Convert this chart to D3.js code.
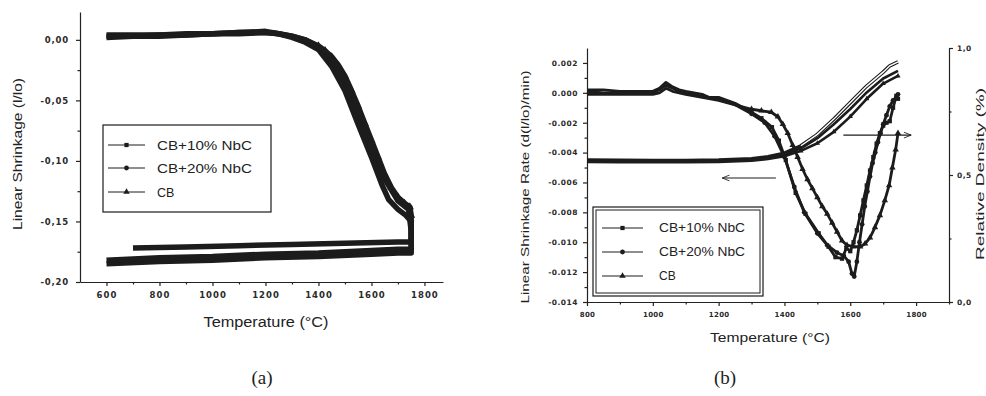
<!DOCTYPE html>
<html>
<head>
<meta charset="utf-8">
<script src="https://cdn.jsdelivr.net/npm/d3@7"></script>
<style>
  body { margin: 0; background: #fff; }
  svg { display: block; font-family: "Liberation Sans", Arial, sans-serif; }
  .axis path, .axis line { stroke: #222; stroke-width: 1.2; }
  .axis text { fill: #2a2a2a; font-family: "DejaVu Sans", sans-serif; font-weight: bold; }
  .title { fill: #222; }
</style>
</head>
<body>
<svg id="fig" width="986" height="396"></svg>
<script>
// ---------- panel (a): linear shrinkage vs temperature ----------
const seriesNames = ['CB+10% NbC', 'CB+20% NbC', 'CB'];

const shrinkTemp10 = [600, 700, 800, 900, 1000, 1100, 1200, 1250, 1300, 1350, 1400, 1450, 1500, 1550, 1600, 1640, 1665, 1700, 1730, 1750, 1750, 1750, 1700, 1600, 1400, 1200, 1000, 800, 600];
const shrink10 = [0.003, 0.003, 0.004, 0.004, 0.005, 0.006, 0.006, 0.005, 0.002, -0.002, -0.008, -0.022, -0.042, -0.070, -0.097, -0.120, -0.132, -0.140, -0.145, -0.150, -0.165, -0.176, -0.176, -0.177, -0.179, -0.180, -0.182, -0.183, -0.185];

const shrinkTemp20 = [600, 700, 800, 900, 1000, 1100, 1200, 1250, 1300, 1350, 1400, 1450, 1500, 1550, 1600, 1650, 1700, 1740, 1750, 1750, 1700, 1600, 1400, 1200, 1000, 800, 600];
const shrink20 = [0.002, 0.003, 0.003, 0.004, 0.005, 0.005, 0.006, 0.005, 0.003, 0.000, -0.006, -0.017, -0.034, -0.060, -0.088, -0.115, -0.133, -0.140, -0.158, -0.173, -0.173, -0.174, -0.176, -0.177, -0.179, -0.180, -0.182];

const shrinkTempCB = [600, 700, 800, 900, 1000, 1100, 1200, 1250, 1300, 1350, 1400, 1425, 1450, 1475, 1500, 1525, 1550, 1575, 1600, 1625, 1650, 1675, 1700, 1725, 1745, 1750, 1750, 1700, 1500, 1300, 1100, 900, 700];
const shrinkCB = [0.004, 0.004, 0.004, 0.005, 0.005, 0.006, 0.007, 0.005, 0.003, 0.000, -0.005, -0.009, -0.014, -0.021, -0.030, -0.042, -0.055, -0.069, -0.083, -0.097, -0.111, -0.122, -0.130, -0.135, -0.138, -0.145, -0.167, -0.167, -0.168, -0.169, -0.170, -0.171, -0.172];

const tempTicksA = [600, 800, 1000, 1200, 1400, 1600, 1800];
const shrinkTicksA = [-0.20, -0.15, -0.10, -0.05, 0.00];

// ---------- panel (b): shrinkage rate and relative density ----------
const rateTemp10 = [800, 850, 900, 950, 1000, 1020, 1040, 1060, 1080, 1100, 1150, 1170, 1200, 1250, 1300, 1330, 1362, 1383, 1404, 1434, 1464, 1504, 1534, 1555, 1575, 1588, 1600, 1610, 1620, 1630, 1640, 1650, 1660, 1670, 1680, 1690, 1700, 1710, 1720, 1730, 1740, 1745];
const rate10 = [0.0002, 0.0002, 0.0001, 0.0001, 0.0001, 0.0003, 0.0007, 0.0004, 0.0002, 0.0001, -0.0001, -0.0003, -0.0003, -0.0007, -0.0013, -0.0017, -0.0023, -0.0032, -0.0045, -0.0067, -0.0081, -0.0094, -0.0103, -0.0110, -0.0111, -0.0104, -0.0106, -0.0100, -0.0092, -0.0082, -0.0072, -0.0062, -0.0052, -0.0043, -0.0034, -0.0027, -0.0022, -0.0020, -0.0019, -0.0010, -0.0002, -0.0004];

const rateTemp20 = [800, 850, 900, 950, 1000, 1020, 1040, 1060, 1080, 1100, 1150, 1170, 1200, 1250, 1300, 1340, 1370, 1400, 1430, 1460, 1500, 1530, 1560, 1580, 1595, 1605, 1612, 1620, 1628, 1636, 1644, 1652, 1660, 1668, 1676, 1684, 1692, 1700, 1710, 1720, 1730, 1740, 1745];
const rate20 = [0.0001, 0.0000, 0.0000, 0.0000, 0.0000, 0.0002, 0.0005, 0.0003, 0.0001, 0.0000, -0.0002, -0.0003, -0.0004, -0.0008, -0.0014, -0.0020, -0.0029, -0.0043, -0.0063, -0.0080, -0.0094, -0.0102, -0.0107, -0.0109, -0.0113, -0.0121, -0.0123, -0.0113, -0.0100, -0.0088, -0.0076, -0.0066, -0.0056, -0.0047, -0.0040, -0.0033, -0.0027, -0.0021, -0.0015, -0.0009, -0.0005, -0.0003, -0.0001];

const rateTempCB = [800, 850, 900, 950, 1000, 1020, 1040, 1060, 1080, 1100, 1150, 1200, 1250, 1300, 1330, 1360, 1380, 1395, 1410, 1425, 1440, 1455, 1470, 1485, 1500, 1515, 1530, 1545, 1560, 1575, 1590, 1610, 1630, 1645, 1660, 1675, 1690, 1705, 1718, 1728, 1738, 1745];
const rateCB = [-0.0001, -0.0001, -0.0001, -0.0001, -0.0001, 0.0000, 0.0003, 0.0001, 0.0000, -0.0001, -0.0003, -0.0005, -0.0008, -0.0011, -0.0012, -0.0013, -0.0016, -0.0021, -0.0027, -0.0035, -0.0043, -0.0051, -0.0058, -0.0064, -0.0070, -0.0076, -0.0081, -0.0087, -0.0093, -0.0099, -0.0102, -0.0103, -0.0103, -0.0101, -0.0097, -0.0090, -0.0082, -0.0072, -0.0062, -0.0050, -0.0038, -0.0027];

const densTemp10 = [800, 900, 1000, 1100, 1200, 1300, 1350, 1400, 1450, 1500, 1550, 1600, 1650, 1700, 1720, 1745];
const dens10 = [0.559, 0.558, 0.557, 0.557, 0.559, 0.564, 0.572, 0.586, 0.615, 0.660, 0.720, 0.785, 0.850, 0.905, 0.930, 0.945];
const densTemp20 = [800, 900, 1000, 1100, 1200, 1300, 1350, 1400, 1450, 1500, 1550, 1600, 1650, 1700, 1745];
const dens20 = [0.555, 0.554, 0.553, 0.553, 0.555, 0.560, 0.568, 0.580, 0.605, 0.645, 0.700, 0.760, 0.825, 0.880, 0.910];
const densTempCB = [800, 900, 1000, 1100, 1200, 1300, 1350, 1400, 1450, 1500, 1550, 1600, 1650, 1700, 1745];
const densCB = [0.551, 0.550, 0.550, 0.550, 0.551, 0.556, 0.563, 0.574, 0.595, 0.625, 0.670, 0.730, 0.800, 0.860, 0.890];

const tempTicksB = [800, 1000, 1200, 1400, 1600, 1800];
const rateTicksB = [-0.014, -0.012, -0.010, -0.008, -0.006, -0.004, -0.002, 0.000, 0.002];
const densTicksB = [0.0, 0.5, 1.0];

// arrows: [tempFrom, tempTo, level]
const arrowRate = [1374, 1211, -0.0057];
const arrowDens = [1579, 1785, 0.657];

// ---------- drawing ----------
const svg = d3.select('#fig');
const ink = '#1c1c1c';

const localeComma = d3.formatLocale({decimal: ',', thousands: '.', grouping: [3], currency: ['', ''], minus: '-'});
const localeDot = d3.formatLocale({decimal: '.', thousands: ',', grouping: [3], currency: ['', ''], minus: '-'});

const symbols = [d3.symbolSquare, d3.symbolCircle, d3.symbolTriangle];

const defs = svg.append('defs');
defs.append('marker')
  .attr('id', 'head')
  .attr('viewBox', '0 -5 10 10')
  .attr('refX', 10).attr('refY', 0)
  .attr('markerWidth', 8).attr('markerHeight', 6)
  .attr('orient', 'auto')
  .append('path')
  .attr('d', 'M0,-4L10,0L0,4')
  .attr('fill', 'none').attr('stroke', ink).attr('stroke-width', 1.2);

function minorAxis(g, axisFn, scale, values, size) {
  g.append('g').attr('class', 'axis')
    .call(axisFn(scale).tickValues(values).tickSize(size).tickFormat('').tickSizeOuter(0))
    .call(s => s.select('.domain').remove());
}

function styleTicks(g, size, spacing) {
  g.selectAll('text').style('font-size', size + 'px').style('letter-spacing', spacing + 'px');
}

function drawSeries(g, x, y, temps, vals, sym, opts) {
  const pts = d3.zip(temps, vals);
  const line = d3.line().x(d => x(d[0])).y(d => y(d[1]));
  g.append('path')
    .attr('d', line(pts))
    .attr('fill', 'none')
    .attr('stroke', ink)
    .attr('stroke-width', opts.width)
    .attr('stroke-linejoin', 'round');
  if (opts.hollow) {
    g.append('path')
      .attr('d', line(pts.filter(d => d[0] >= opts.hollow)))
      .attr('fill', 'none')
      .attr('stroke', '#fff')
      .attr('stroke-width', opts.width - 2.2);
  }
  if (opts.markers) {
    // markers only on the heating run (up to the first maximum temperature)
    const last = temps.indexOf(d3.max(temps));
    g.selectAll(null)
      .data(pts.slice(0, last + 1).filter(d => d[0] >= opts.markFrom))
      .enter().append('path')
      .attr('transform', d => 'translate(' + x(d[0]) + ',' + y(d[1]) + ')')
      .attr('d', d3.symbol(sym, opts.markSize))
      .attr('fill', ink);
  }
}

function legend(g, box, rows, fontSize, double) {
  g.append('rect').attr('x', box.x).attr('y', box.y).attr('width', box.w).attr('height', box.h)
    .attr('fill', '#fff').attr('stroke', ink).attr('stroke-width', 1.2);
  if (double) {
    g.append('rect').attr('x', box.x + 3).attr('y', box.y + 3).attr('width', box.w - 6).attr('height', box.h - 6)
      .attr('fill', 'none').attr('stroke', ink).attr('stroke-width', 1);
  }
  rows.forEach((r, i) => {
    g.append('line').attr('x1', r.lx1).attr('x2', r.lx2).attr('y1', r.y).attr('y2', r.y)
      .attr('stroke', ink).attr('stroke-width', 1);
    g.append('path').attr('transform', 'translate(' + ((r.lx1 + r.lx2) / 2) + ',' + r.y + ')')
      .attr('d', d3.symbol(symbols[i], 18)).attr('fill', ink);
    const t = g.append('text').attr('x', r.tx).attr('y', r.y).attr('dy', '0.36em')
      .attr('class', 'title').style('font-size', fontSize + 'px')
      .text(seriesNames[i]);
    if (r.len) t.attr('textLength', r.len).attr('lengthAdjust', 'spacingAndGlyphs');
  });
}

function title(g, text, x, y, size, len, rotate) {
  g.append('text').attr('class', 'title')
    .attr('transform', 'translate(' + x + ',' + y + ')' + (rotate ? ' rotate(-90)' : ''))
    .attr('text-anchor', 'middle').attr('dy', '0.35em')
    .attr('textLength', len).attr('lengthAdjust', 'spacingAndGlyphs')
    .style('font-size', size + 'px')
    .text(text);
}

// ---- panel (a)
const xA = d3.scaleLinear().domain([500, 1870]).range([80, 443]);
const yA = d3.scaleLinear().domain([-0.20, 0.023]).range([282, 12]);
const gA = svg.append('g');

gA.append('g').attr('class', 'axis').attr('transform', 'translate(80,0)')
  .call(d3.axisLeft(yA).tickValues(shrinkTicksA).tickSize(4).tickPadding(7).tickSizeOuter(0)
    .tickFormat(localeComma.format('.2f')))
  .call(g => styleTicks(g, 8.5, 0.8));
minorAxis(gA.append('g').attr('transform', 'translate(80,0)'), d3.axisLeft, yA, [-0.175, -0.125, -0.075, -0.025], 2.5);

gA.append('g').attr('class', 'axis').attr('transform', 'translate(0,282)')
  .call(d3.axisBottom(xA).tickValues(tempTicksA).tickSize(4).tickPadding(6).tickSizeOuter(0)
    .tickFormat(d3.format('d')))
  .call(g => styleTicks(g, 8.5, 1));
minorAxis(gA.append('g').attr('transform', 'translate(0,282)'), d3.axisBottom, xA, [700, 900, 1100, 1300, 1500, 1700], 2.5);

const dataA = [[shrinkTemp10, shrink10], [shrinkTemp20, shrink20], [shrinkTempCB, shrinkCB]];
dataA.forEach((s, i) => {
  drawSeries(gA, xA, yA, s[0], s[1], symbols[i], {width: 5.5, markers: i === 2, markFrom: 1400, markSize: 28});
});

legend(gA, {x: 103, y: 125, w: 168, h: 87}, [
  {lx1: 108, lx2: 145, tx: 157, y: 145, len: 95},
  {lx1: 108, lx2: 145, tx: 157, y: 168, len: 95},
  {lx1: 108, lx2: 145, tx: 157, y: 192}
], 12.5, false);

title(gA, 'Linear Shrinkage (l/lo)', 17, 154, 13, 152, true);
title(gA, 'Temperature (°C)', 266, 322, 14, 125, false);

// ---- panel (b)
const xB = d3.scaleLinear().domain([800, 1900]).range([587, 949]);
const yB = d3.scaleLinear().domain([-0.014, 0.003]).range([302, 48]);
const yD = d3.scaleLinear().domain([0, 1]).range([302, 48]);
const gB = svg.append('g');

gB.append('g').attr('class', 'axis').attr('transform', 'translate(587,0)')
  .call(d3.axisLeft(yB).tickValues(rateTicksB).tickSize(4).tickPadding(5).tickSizeOuter(0)
    .tickFormat(localeDot.format('.3f')))
  .call(g => styleTicks(g, 7.5, 0.5));
minorAxis(gB.append('g').attr('transform', 'translate(587,0)'), d3.axisLeft, yB,
  [-0.013, -0.011, -0.009, -0.007, -0.005, -0.003, -0.001, 0.001], 2.5);

gB.append('g').attr('class', 'axis').attr('transform', 'translate(949,0)')
  .call(d3.axisRight(yD).tickValues(densTicksB).tickSize(4).tickPadding(4).tickSizeOuter(0)
    .tickFormat(localeComma.format('.1f')))
  .call(g => styleTicks(g, 7.5, 0.5));
minorAxis(gB.append('g').attr('transform', 'translate(949,0)'), d3.axisRight, yD, [0.25, 0.75], 2.5);

gB.append('g').attr('class', 'axis').attr('transform', 'translate(0,302)')
  .call(d3.axisBottom(xB).tickValues(tempTicksB).tickSize(4).tickPadding(6).tickSizeOuter(0)
    .tickFormat(d3.format('d')))
  .call(g => styleTicks(g, 7, 0.3));
minorAxis(gB.append('g').attr('transform', 'translate(0,302)'), d3.axisBottom, xB, [900, 1100, 1300, 1500, 1700, 1900], 2.5);

const densB = [[densTemp10, dens10], [densTemp20, dens20], [densTempCB, densCB]];
densB.forEach((s, i) => {
  drawSeries(gB, xB, yD, s[0], s[1], symbols[i], {width: i === 0 ? 3.6 : 2.6, hollow: i === 0 ? 1420 : 0,
    markers: i === 2, markFrom: 1450, markSize: 12});
});

const rateB = [[rateTemp10, rate10], [rateTemp20, rate20], [rateTempCB, rateCB]];
rateB.forEach((s, i) => {
  drawSeries(gB, xB, yB, s[0], s[1], symbols[i], {width: 2.8, markers: true, markFrom: 1300, markSize: 18});
});

gB.append('line')
  .attr('x1', xB(arrowRate[0])).attr('x2', xB(arrowRate[1]))
  .attr('y1', yB(arrowRate[2])).attr('y2', yB(arrowRate[2]))
  .attr('stroke', ink).attr('stroke-width', 1.2).attr('marker-end', 'url(#head)');
gB.append('line')
  .attr('x1', xB(arrowDens[0])).attr('x2', xB(arrowDens[1]))
  .attr('y1', yD(arrowDens[2])).attr('y2', yD(arrowDens[2]))
  .attr('stroke', ink).attr('stroke-width', 1.2).attr('marker-end', 'url(#head)');

legend(gB, {x: 593, y: 207, w: 170, h: 89}, [
  {lx1: 602, lx2: 643, tx: 659, y: 228, len: 86},
  {lx1: 602, lx2: 643, tx: 659, y: 252, len: 86},
  {lx1: 602, lx2: 643, tx: 659, y: 276}
], 12, true);

title(gB, 'Linear Shrinkage Rate (d(l/lo)/min)', 525, 187, 11.5, 233, true);
title(gB, 'Relative Density (%)', 980, 174, 10.5, 172, true);
title(gB, 'Temperature (°C)', 770, 338, 12, 120, false);

// ---- panel captions
svg.append('text').attr('x', 262).attr('y', 384).attr('text-anchor', 'middle')
  .style('font-family', '"Liberation Serif", "Times New Roman", serif').style('font-size', '19px')
  .attr('fill', ink).text('(a)');
svg.append('text').attr('x', 725).attr('y', 384).attr('text-anchor', 'middle')
  .style('font-family', '"Liberation Serif", "Times New Roman", serif').style('font-size', '19px')
  .attr('fill', ink).text('(b)');
</script>
</body>
</html>
